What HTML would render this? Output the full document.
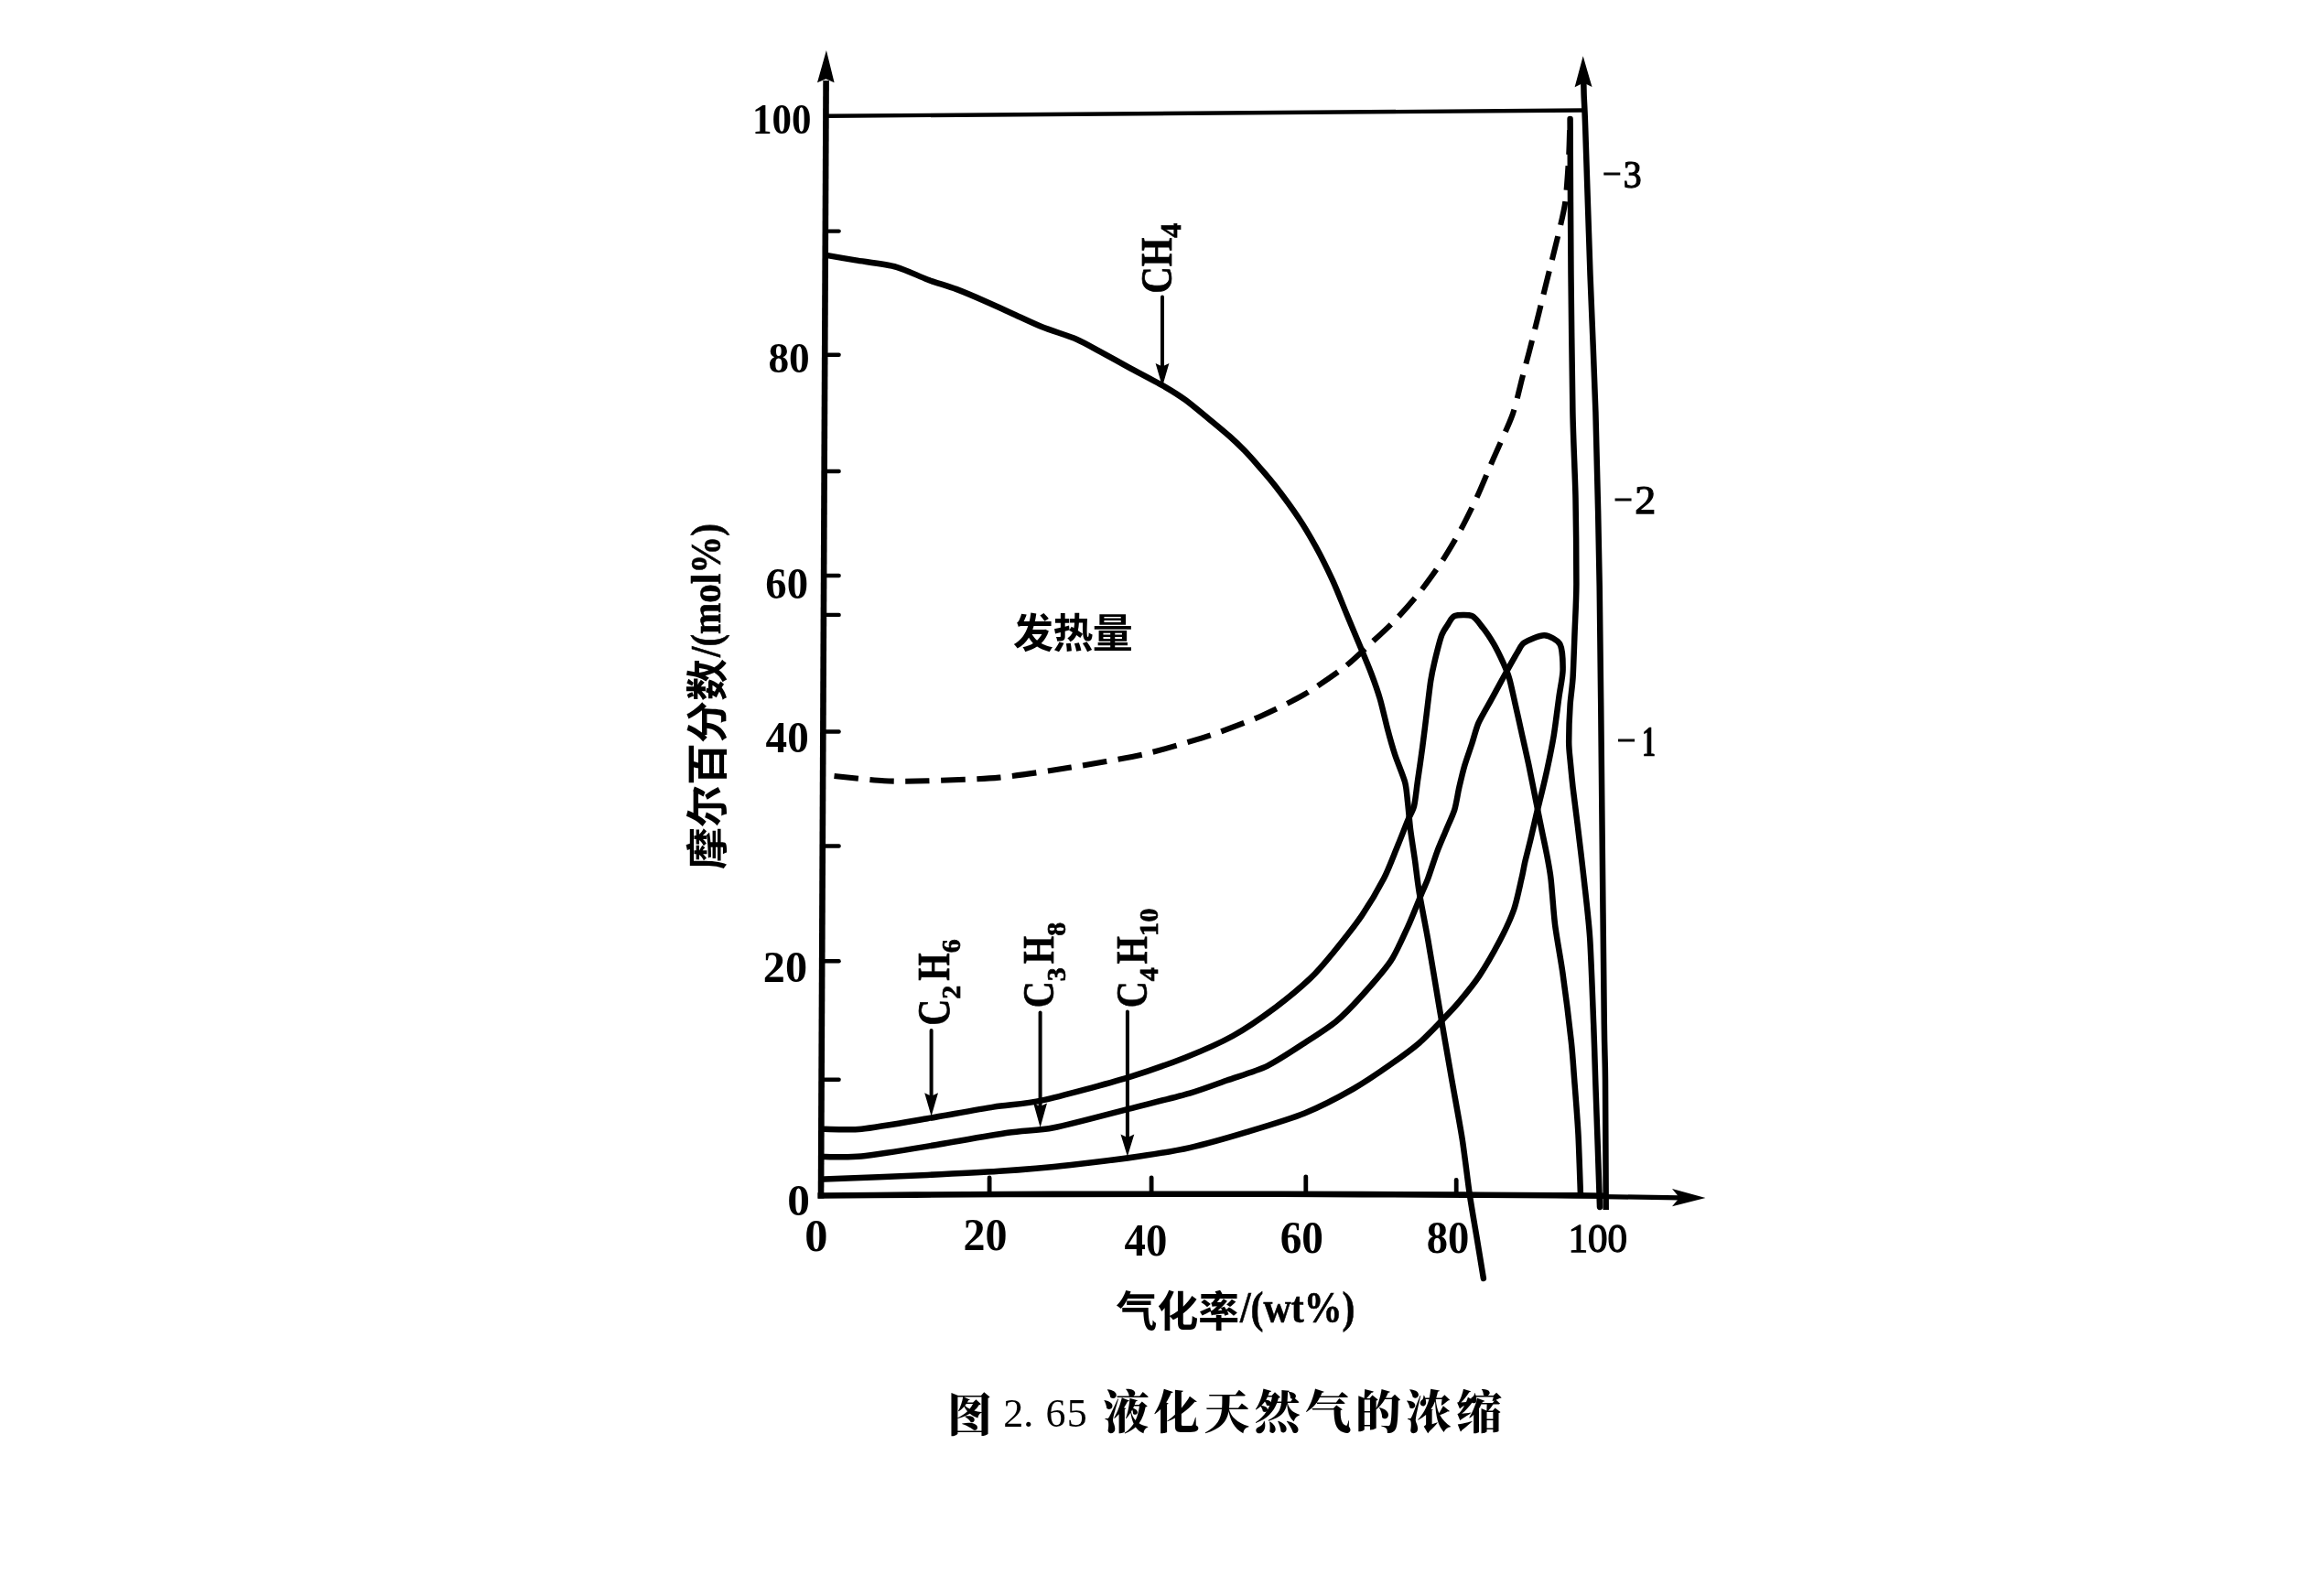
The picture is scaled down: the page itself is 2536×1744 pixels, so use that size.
<!DOCTYPE html>
<html lang="zh"><head><meta charset="utf-8"><title>图 2.65 液化天然气的浓缩</title>
<style>
html,body{margin:0;padding:0;background:#fff}
body{width:2536px;height:1744px;overflow:hidden}
svg{display:block;filter:blur(0.55px)}
</style></head><body>
<svg width="2536" height="1744" viewBox="0 0 2536 1744">
<rect width="2536" height="1744" fill="#fff"/>
<g fill="none" stroke="#000" stroke-linecap="round" stroke-linejoin="round">
<path d="M902.6 88 L897.0 1309.6" stroke-width="6.6" stroke-linecap="butt"/>
<path d="M893.5 1306.5 C907.0 1306.4 967.5 1305.8 1000.0 1305.6 C1032.5 1305.4 1099.3 1305.0 1150.0 1304.9 C1200.7 1304.8 1343.0 1304.7 1400.0 1304.8 C1457.0 1304.9 1562.0 1305.4 1600.0 1305.6 C1638.0 1305.8 1680.1 1306.0 1700.0 1306.2 C1719.9 1306.4 1749.8 1306.7 1757.0 1306.8" stroke-width="6.6" stroke-linecap="butt"/>
<path d="M1752 1307.6 L1836 1308.8" stroke-width="5.2" stroke-linecap="butt"/>
<path d="M1730.3 89.0 C1730.3 90.8 1730.5 99.1 1730.6 103.0 C1730.7 106.9 1731.2 115.3 1731.4 120.0 C1731.6 124.7 1731.4 117.2 1732.2 140.0 C1733.0 162.8 1736.1 260.7 1737.5 300.0 C1738.9 339.3 1742.1 406.9 1743.4 450.0 C1744.7 493.1 1746.8 583.0 1747.7 640.0 C1748.6 697.0 1749.9 839.3 1750.5 900.0 C1751.1 960.7 1752.4 1083.5 1752.8 1119.0 C1753.2 1154.5 1753.8 1154.3 1754.0 1180.0 C1754.2 1205.7 1754.6 1304.0 1754.7 1322.0" stroke-width="6.5" stroke-linecap="butt"/>
<path d="M904 126.8 L1729.5 120.5" stroke-width="4.4" stroke-linecap="butt"/>
<path d="M901.8 252.6 H916.6" stroke-width="4.4"/>
<path d="M901.2 387.8 H916.6" stroke-width="4.4"/>
<path d="M900.6 515.0 H916.6" stroke-width="4.4"/>
<path d="M900.1 629.0 H916.6" stroke-width="4.4"/>
<path d="M899.9 671.9 H916.6" stroke-width="4.4"/>
<path d="M899.3 799.5 H916.6" stroke-width="4.4"/>
<path d="M898.8 924.5 H916.6" stroke-width="4.4"/>
<path d="M898.2 1050.3 H916.6" stroke-width="4.4"/>
<path d="M897.6 1179.8 H916.6" stroke-width="4.4"/>
<path d="M1081.1 1287.0 V1305" stroke-width="4.8"/>
<path d="M1258.1 1286.8 V1305" stroke-width="4.8"/>
<path d="M1426.8 1285.8 V1305" stroke-width="4.8"/>
<path d="M1591.2 1289.4 V1305" stroke-width="4.8"/>
<path d="M902.8 278.9 C906.9 279.6 925.3 282.8 935.0 284.4 C944.7 286.0 969.6 289.1 979.5 291.8 C989.4 294.5 1005.1 302.4 1013.4 305.5 C1021.7 308.6 1036.8 312.9 1044.7 315.9 C1052.6 318.9 1068.1 325.5 1076.0 329.0 C1083.9 332.5 1099.5 339.6 1107.4 343.2 C1115.3 346.8 1130.0 353.8 1138.7 357.3 C1147.4 360.8 1168.4 367.3 1176.3 370.7 C1184.2 374.1 1194.3 380.0 1201.4 383.9 C1208.5 387.8 1223.6 396.1 1232.7 401.1 C1241.8 406.1 1265.6 418.5 1273.5 423.1 C1281.4 427.7 1289.4 432.8 1295.4 437.2 C1301.4 441.6 1314.4 452.5 1320.5 457.5 C1326.6 462.5 1338.5 472.4 1343.5 476.8 C1348.5 481.2 1355.6 488.1 1360.0 492.6 C1364.4 497.1 1373.7 507.7 1378.0 512.6 C1382.3 517.5 1388.4 524.6 1393.6 531.3 C1398.8 538.0 1413.1 557.4 1418.7 565.7 C1424.3 574.0 1432.7 588.3 1437.5 597.0 C1442.3 605.7 1451.9 625.1 1456.3 634.6 C1460.7 644.1 1467.9 662.7 1471.9 672.2 C1475.9 681.7 1484.2 701.7 1487.6 709.8 C1491.0 717.9 1495.9 729.6 1498.5 736.5 C1501.1 743.4 1505.8 756.7 1508.0 764.3 C1510.2 771.9 1514.0 788.8 1516.0 796.4 C1518.0 804.0 1521.7 817.1 1524.1 824.5 C1526.5 831.9 1533.3 848.0 1535.1 854.6 C1536.9 861.2 1537.3 870.1 1538.1 876.7 C1538.9 883.3 1540.1 898.6 1541.1 906.7 C1542.1 914.8 1544.9 932.1 1546.1 940.8 C1547.3 949.5 1548.9 964.5 1550.7 975.2 C1552.5 985.9 1557.2 1009.5 1560.0 1025.4 C1562.8 1041.3 1569.3 1081.0 1572.6 1100.6 C1575.9 1120.2 1583.1 1161.7 1586.3 1180.0 C1589.5 1198.3 1595.2 1228.7 1597.7 1244.7 C1600.2 1260.7 1603.9 1292.5 1605.9 1306.0 C1607.9 1319.5 1611.5 1339.8 1613.4 1351.3 C1615.3 1362.8 1620.0 1391.2 1620.9 1397.0" stroke-width="6.5"/>
<path d="M900.6 1233.7 C905.8 1233.7 927.0 1235.2 941.3 1233.7 C955.6 1232.2 995.1 1225.3 1013.4 1222.2 C1031.7 1219.1 1069.6 1212.1 1085.5 1209.6 C1101.4 1207.1 1120.1 1206.5 1138.7 1202.4 C1157.3 1198.3 1212.9 1183.3 1232.7 1177.3 C1252.5 1171.3 1280.9 1161.1 1295.4 1155.4 C1309.9 1149.7 1334.5 1138.9 1347.0 1132.0 C1359.5 1125.1 1383.3 1108.6 1394.0 1100.6 C1404.7 1092.6 1423.7 1076.7 1431.6 1069.2 C1439.5 1061.7 1449.6 1049.7 1456.7 1041.0 C1463.8 1032.3 1481.0 1010.5 1488.0 1000.3 C1495.0 990.1 1507.2 969.4 1512.0 960.1 C1516.8 950.8 1522.8 934.8 1526.1 926.8 C1529.4 918.8 1535.7 902.5 1538.1 896.7 C1540.5 890.9 1543.7 886.3 1545.1 880.7 C1546.5 875.1 1547.9 860.7 1549.1 852.6 C1550.3 844.5 1552.9 826.2 1554.2 816.5 C1555.5 806.8 1558.1 785.5 1559.2 776.4 C1560.3 767.3 1562.2 750.9 1563.2 744.3 C1564.2 737.7 1565.7 730.5 1567.2 724.2 C1568.7 717.9 1573.3 699.5 1575.2 694.2 C1577.1 688.9 1580.4 684.8 1582.2 682.1 C1584.0 679.4 1586.0 674.2 1589.3 673.1 C1592.6 672.0 1604.4 671.5 1608.3 673.1 C1612.2 674.7 1617.2 682.2 1620.3 686.1 C1623.4 690.0 1629.6 699.4 1632.4 704.2 C1635.2 709.0 1640.2 719.4 1642.4 724.2 C1644.6 729.0 1647.8 736.7 1649.4 742.3 C1651.0 747.9 1653.7 761.0 1655.4 768.4 C1657.1 775.8 1660.6 791.8 1662.5 800.4 C1664.4 809.0 1668.5 826.8 1670.5 836.5 C1672.5 846.2 1676.7 867.8 1678.5 876.7 C1680.3 885.6 1683.1 899.8 1684.5 906.7 C1685.9 913.6 1688.2 924.0 1689.5 930.8 C1690.8 937.6 1693.3 950.1 1694.5 960.1 C1695.7 970.1 1697.4 997.0 1699.0 1010.0 C1700.6 1023.0 1705.1 1046.8 1707.4 1063.0 C1709.7 1079.2 1715.2 1123.4 1716.8 1138.2 C1718.4 1153.0 1719.2 1167.1 1720.2 1180.0 C1721.2 1192.9 1723.7 1224.3 1724.5 1240.0 C1725.3 1255.7 1726.6 1296.2 1726.9 1304.3" stroke-width="6.5"/>
<path d="M900.6 1264.1 C905.8 1264.0 927.0 1265.0 941.3 1263.5 C955.6 1262.0 993.2 1255.9 1013.4 1252.6 C1033.6 1249.3 1083.6 1240.4 1101.1 1237.8 C1118.6 1235.2 1134.6 1235.5 1151.3 1232.2 C1168.0 1228.9 1213.9 1216.6 1232.7 1211.8 C1251.5 1207.0 1286.3 1198.6 1300.0 1194.6 C1313.7 1190.6 1330.0 1184.3 1340.7 1180.5 C1351.4 1176.7 1373.9 1170.0 1384.6 1164.8 C1395.3 1159.6 1415.9 1145.9 1425.4 1139.7 C1434.9 1133.5 1451.9 1122.7 1459.8 1116.2 C1467.7 1109.7 1480.5 1096.3 1488.0 1088.0 C1495.5 1079.7 1513.0 1059.9 1519.4 1050.4 C1525.8 1040.9 1533.8 1022.3 1538.2 1012.8 C1542.6 1003.3 1551.0 981.9 1553.8 975.2 C1556.6 968.5 1558.1 965.7 1560.2 960.1 C1562.3 954.5 1567.7 937.6 1570.2 930.8 C1572.7 924.0 1577.8 912.5 1580.2 906.7 C1582.6 900.9 1587.5 890.5 1589.3 884.7 C1591.1 878.9 1592.9 866.7 1594.3 860.6 C1595.7 854.5 1598.5 842.6 1600.3 836.5 C1602.1 830.4 1606.4 818.3 1608.3 812.5 C1610.2 806.7 1612.8 796.2 1615.3 790.4 C1617.8 784.6 1625.2 772.2 1628.4 766.4 C1631.6 760.6 1637.6 749.4 1640.4 744.3 C1643.2 739.2 1648.1 730.3 1650.4 726.2 C1652.7 722.1 1656.5 715.2 1658.4 712.2 C1660.3 709.2 1661.8 704.5 1665.5 702.2 C1669.2 699.9 1682.5 693.9 1687.5 694.2 C1692.5 694.5 1702.1 699.4 1704.6 704.2 C1707.1 709.0 1707.7 725.2 1707.6 732.3 C1707.5 739.4 1704.9 751.2 1703.6 760.3 C1702.3 769.4 1699.3 794.3 1697.6 804.5 C1695.9 814.7 1692.2 832.7 1690.5 840.6 C1688.8 848.5 1686.0 860.3 1684.5 866.6 C1683.0 872.9 1680.0 884.3 1678.5 890.7 C1677.0 897.1 1674.0 910.5 1672.5 916.8 C1671.0 923.1 1667.8 935.3 1666.5 940.8 C1665.2 946.3 1664.1 953.4 1662.5 960.1 C1660.9 966.8 1657.2 985.3 1654.1 994.0 C1651.0 1002.7 1643.2 1019.4 1638.4 1028.5 C1633.6 1037.6 1622.0 1057.8 1616.5 1066.1 C1611.0 1074.4 1599.8 1088.1 1594.6 1094.3 C1589.4 1100.5 1581.4 1108.9 1575.8 1114.7 C1570.2 1120.5 1557.8 1133.6 1550.7 1139.7 C1543.6 1145.8 1528.5 1156.8 1519.4 1163.2 C1510.3 1169.6 1490.5 1183.1 1478.6 1189.9 C1466.7 1196.7 1440.1 1210.5 1425.4 1216.5 C1410.7 1222.5 1378.6 1232.1 1362.7 1236.9 C1346.8 1241.7 1314.9 1250.7 1300.0 1254.1 C1285.1 1257.5 1261.8 1261.1 1245.3 1263.5 C1228.8 1265.9 1189.5 1270.8 1170.0 1272.9 C1150.5 1275.0 1111.5 1278.4 1091.7 1279.8 C1071.9 1281.2 1037.6 1282.8 1013.4 1283.9 C989.2 1285.0 914.9 1288.0 900.6 1288.6" stroke-width="6.5"/>
<path d="M1715.6 130.0 C1715.7 151.5 1716.1 259.5 1716.5 300.0 C1716.9 340.5 1717.8 419.1 1718.4 450.0 C1719.0 480.9 1721.0 520.2 1721.5 544.0 C1722.0 567.8 1722.5 619.5 1722.4 638.0 C1722.3 656.5 1721.1 677.1 1720.6 690.0 C1720.1 702.9 1719.2 729.9 1718.6 740.0 C1718.0 750.1 1716.2 761.1 1715.6 770.0 C1715.0 778.9 1714.2 802.8 1714.2 810.5 C1714.2 818.2 1715.0 824.2 1715.6 830.5 C1716.2 836.8 1717.6 851.7 1718.6 860.6 C1719.6 869.5 1722.1 888.1 1723.6 900.7 C1725.1 913.3 1728.9 944.3 1730.6 960.1 C1732.3 975.9 1735.9 1005.2 1737.2 1025.4 C1738.5 1045.6 1740.4 1099.8 1741.2 1119.4 C1742.0 1139.0 1742.6 1162.2 1743.2 1180.0 C1743.8 1197.8 1745.4 1242.4 1746.0 1260.0 C1746.6 1277.6 1747.7 1311.5 1748.0 1319.0" stroke-width="6.5"/>
<path d="M911.5 848.0 C918.4 848.7 953.1 852.6 966.0 853.3 C978.9 854.0 997.1 853.8 1013.0 853.3 C1028.9 852.8 1071.8 851.5 1091.7 849.6 C1111.6 847.7 1150.2 841.8 1170.0 838.6 C1189.8 835.4 1231.9 828.1 1248.4 824.5 C1264.9 820.9 1289.5 813.5 1300.0 810.4 C1310.5 807.3 1321.4 804.0 1331.3 800.4 C1341.2 796.8 1366.4 787.5 1378.3 782.2 C1390.2 776.9 1413.9 765.5 1425.4 758.7 C1436.9 751.9 1459.8 736.2 1469.2 728.9 C1478.6 721.6 1492.8 707.7 1500.0 701.0 C1507.2 694.3 1519.4 683.1 1526.0 676.1 C1532.6 669.1 1545.8 654.0 1552.1 646.0 C1558.4 638.0 1570.4 621.2 1575.8 613.0 C1581.2 604.8 1589.8 590.3 1594.6 581.6 C1599.4 572.9 1608.6 554.3 1613.4 544.0 C1618.2 533.7 1627.2 511.6 1632.2 500.1 C1637.2 488.6 1648.6 464.3 1652.6 453.1 C1656.6 441.9 1660.9 421.8 1663.5 412.0 C1666.1 402.2 1669.8 388.5 1673.0 376.0 C1676.2 363.5 1684.7 328.9 1688.6 313.0 C1692.5 297.1 1701.2 262.6 1704.0 250.7 C1706.8 238.8 1709.2 229.2 1710.5 219.0 C1711.8 208.8 1713.6 181.1 1714.2 170.0 C1714.8 158.9 1715.2 135.9 1715.4 131.0" stroke-width="6.1" stroke-dasharray="26.5 12.5" stroke-linecap="butt"/>
<path d="M1270 324.5 V412" stroke-width="4"/>
<path d="M1017.6 1126 V1206" stroke-width="4"/>
<path d="M1136.6 1106.5 V1218" stroke-width="4"/>
<path d="M1231.9 1105.5 V1250" stroke-width="4"/>
</g>
<g fill="#000">
<path d="M902.9 55 L911.6 90.3 L902.4 86.2 L893 90.3 Z"/>
<path d="M1729.7 61.3 L1739.5 95 L1730.3 90.6 L1720.6 95.3 Z"/>
<path d="M1863.5 1309 L1827 1299 L1835 1308.8 L1827 1318.2 Z"/>
<path d="M1270.0 422.6 L1262.6 397.1 L1270.0 400.6 L1277.4 397.1 Z"/>
<path d="M1017.6 1219.7 L1010.2 1194.2 L1017.6 1197.7 L1025.0 1194.2 Z"/>
<path d="M1136.6 1231.9 L1129.2 1205.6 L1136.6 1209.1 L1144.0 1205.6 Z"/>
<path d="M1231.9 1263.8 L1224.5 1239.4 L1231.9 1242.9 L1239.3 1239.4 Z"/>
</g>
<g fill="#000" font-family="'Liberation Serif','Noto Sans CJK SC',serif">
<text x="822.0" y="146.1" font-size="45.5" font-weight="bold" textLength="64.4" lengthAdjust="spacingAndGlyphs">100</text>
<text x="839.4" y="406.6" font-size="46.8" font-weight="bold" textLength="45.3" lengthAdjust="spacingAndGlyphs">80</text>
<text x="836.3" y="653.8" font-size="47.6" font-weight="bold" textLength="46.7" lengthAdjust="spacingAndGlyphs">60</text>
<text x="836.6" y="821.5" font-size="48.6" font-weight="bold" textLength="47.1" lengthAdjust="spacingAndGlyphs">40</text>
<text x="833.8" y="1072.7" font-size="48.7" font-weight="bold" textLength="48.2" lengthAdjust="spacingAndGlyphs">20</text>
<text x="860.2" y="1327.6" font-size="49.2" font-weight="bold" textLength="24.7" lengthAdjust="spacingAndGlyphs">0</text>
<text x="879.3" y="1367.4" font-size="49.6" font-weight="bold" textLength="25.2" lengthAdjust="spacingAndGlyphs">0</text>
<text x="1052.6" y="1365.7" font-size="50.7" font-weight="bold" textLength="48.0" lengthAdjust="spacingAndGlyphs">20</text>
<text x="1228.6" y="1372.2" font-size="50.7" font-weight="bold" textLength="46.7" lengthAdjust="spacingAndGlyphs">40</text>
<text x="1398.7" y="1368.9" font-size="50.5" font-weight="bold" textLength="47.3" lengthAdjust="spacingAndGlyphs">60</text>
<text x="1558.8" y="1368.9" font-size="50.5" font-weight="bold" textLength="46.6" lengthAdjust="spacingAndGlyphs">80</text>
<text x="1713.5" y="1368.2" font-size="44.1" font-weight="normal" textLength="64.5" lengthAdjust="spacingAndGlyphs" stroke="#000" stroke-width="1.3">100</text>
<text y="204.6" font-size="43.0"><tspan x="1750.9" dy="-3.0" font-size="36.0" stroke="#000" stroke-width="1.25">−</tspan><tspan x="1773.8" dy="3.0" font-weight="normal" stroke="#000" stroke-width="1.25" textLength="19.9" lengthAdjust="spacingAndGlyphs">3</tspan></text>
<text y="561.1" font-size="44.3"><tspan x="1763.2" dy="-3.6" font-size="36.0" stroke="#000" stroke-width="1.25">−</tspan><tspan x="1786.2" dy="3.6" font-weight="normal" stroke="#000" stroke-width="1.25" textLength="23.0" lengthAdjust="spacingAndGlyphs">2</tspan></text>
<text y="825.8" font-size="47.3"><tspan x="1766.7" dy="-5.0" font-size="36.0" stroke="#000" stroke-width="1.25">−</tspan><tspan x="1793.8" dy="5.0" font-weight="bold" stroke="#000" stroke-width="0.30" textLength="15.5" lengthAdjust="spacingAndGlyphs">1</tspan></text>
<text x="1107" y="707.7" font-size="44" font-weight="bold" letter-spacing="-0.6" font-family="'Liberation Serif','Noto Sans CJK SC',sans-serif">发热量</text>
<text x="1219.6" y="1448.5" font-weight="bold" font-family="'Liberation Serif','Noto Sans CJK SC',sans-serif"><tspan font-size="46" textLength="134.5" lengthAdjust="spacingAndGlyphs">气化率</tspan><tspan font-size="48" dx="0.8" dy="-3.8" textLength="125.6" lengthAdjust="spacingAndGlyphs" stroke="#000" stroke-width="0.6">/(wt%)</tspan></text>
<text transform="translate(789.3 950) rotate(-90)" font-weight="bold" font-family="'Liberation Serif','Noto Sans CJK SC',sans-serif"><tspan font-size="46">摩尔百分数</tspan><tspan font-size="45.5" dx="2" dy="-2.7" textLength="146" lengthAdjust="spacingAndGlyphs" stroke="#000" stroke-width="0.6">/(mol%)</tspan></text>
<text transform="translate(1280.0 320.8) rotate(-90)" font-size="48" font-weight="bold" stroke="#000" stroke-width="0.7"><tspan textLength="29.5" lengthAdjust="spacingAndGlyphs">C</tspan><tspan textLength="31.5" lengthAdjust="spacingAndGlyphs">H</tspan><tspan font-size="32" dy="10.0" letter-spacing="1.0">4</tspan></text>
<text transform="translate(1036.6 1120.8) rotate(-90)" font-size="51" font-weight="bold" stroke="#000" stroke-width="0.7"><tspan textLength="29.0" lengthAdjust="spacingAndGlyphs">C</tspan><tspan font-size="30" dy="12.5" letter-spacing="5.0">2</tspan><tspan dy="-12.5" textLength="30.5" lengthAdjust="spacingAndGlyphs">H</tspan><tspan font-size="30" dy="12.5" letter-spacing="5.0">6</tspan></text>
<text transform="translate(1151.3 1101.2) rotate(-90)" font-size="49" font-weight="bold" stroke="#000" stroke-width="0.7"><tspan textLength="29.0" lengthAdjust="spacingAndGlyphs">C</tspan><tspan font-size="30" dy="12.5" letter-spacing="4.0">3</tspan><tspan dy="-12.5" textLength="30.5" lengthAdjust="spacingAndGlyphs">H</tspan><tspan font-size="30" dy="12.5" letter-spacing="4.0">8</tspan></text>
<text transform="translate(1252.9 1101.2) rotate(-90)" font-size="49" font-weight="bold" stroke="#000" stroke-width="0.7"><tspan textLength="29.0" lengthAdjust="spacingAndGlyphs">C</tspan><tspan font-size="30" dy="12.5" letter-spacing="3.6">4</tspan><tspan dy="-12.5" textLength="30.5" lengthAdjust="spacingAndGlyphs">H</tspan><tspan font-size="30" dy="12.5" letter-spacing="0.5">10</tspan></text>
<text font-size="50" font-weight="900" font-family="'Liberation Serif','Noto Serif CJK SC',serif"><tspan x="1035" y="1564.3" textLength="49" lengthAdjust="spacingAndGlyphs">图</tspan> <tspan x="1096.3" y="1558.6" font-size="44" font-weight="normal">2. </tspan><tspan x="1142.4" y="1558.6" font-size="44" font-weight="normal" letter-spacing="1.4">65</tspan> <tspan x="1205.4" y="1561.1" letter-spacing="5.1">液化天然气的浓缩</tspan></text>
</g>
</svg>
</body></html>
